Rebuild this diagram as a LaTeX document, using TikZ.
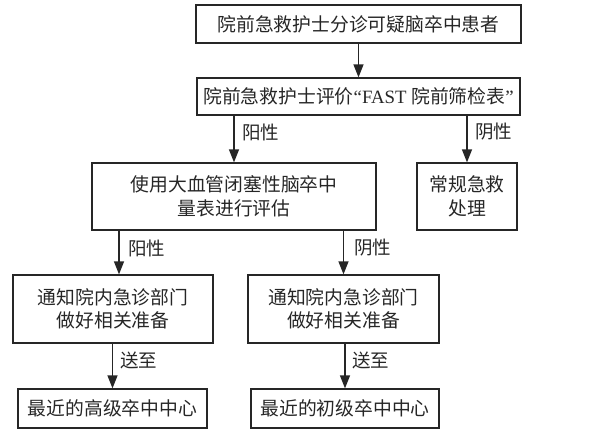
\documentclass[tikz,border=0pt]{standalone}
\usepackage{fontspec}
\setmainfont{Liberation Serif}
\newfontfamily\cjk{Noto Sans CJK SC}
\usetikzlibrary{arrows.meta}
\begin{document}
\begin{tikzpicture}[x=1pt,y=-1pt,
  box/.style={draw=black!85,line width=1.2pt,inner sep=0pt,align=center,
    font=\fontsize{18.8}{23.5}\selectfont\cjk,text=black!85},
  arr/.style={draw=black!85,line width=1.2pt,-{Triangle[length=13pt,width=10pt]}},
  lab/.style={font=\fontsize{18.5}{21}\selectfont\cjk,text=black!85,anchor=west,inner sep=0pt}]
\useasboundingbox (0,0) rectangle (592,432);
\node[box,minimum width=325pt,minimum height=38pt] (b1) at (358.5,24) {院前急救护士分诊可疑脑卒中患者};
\node[box,minimum width=323pt,minimum height=37pt] (b2) at (358.5,96.5) {院前急救护士评价{\rmfamily“FAST }院前筛检表{\rmfamily”}};
\node[box,minimum width=284pt,minimum height=67pt] (b3) at (234,196.5) {使用大血管闭塞性脑卒中\\量表进行评估};
\node[box,minimum width=100pt,minimum height=67pt] (b4) at (467,196.5) {常规急救\\处理};
\node[box,minimum width=200pt,minimum height=68pt] (b5) at (113,309) {通知院内急诊部门\\做好相关准备};
\node[box,minimum width=191pt,minimum height=68pt] (b6) at (343.5,309) {通知院内急诊部门\\做好相关准备};
\node[box,minimum width=189pt,minimum height=39pt] (b7) at (112.5,408.5) {最近的高级卒中中心};
\node[box,minimum width=188pt,minimum height=39pt] (b8) at (345,408.5) {最近的初级卒中中心};
\coordinate (c1) at (119,0);
\draw[arr] (b1.south) -- (b2.north);
\draw[arr] (b3.north |- b2.south) -- (b3.north);
\draw[arr] (b4.north |- b2.south) -- (b4.north);
\draw[arr] (c1 |- b3.south) -- (c1 |- b5.north);
\draw[arr] (b6.north |- b3.south) -- (b6.north);
\draw[arr] (b7.north |- b5.south) -- (b7.north);
\draw[arr] (b8.north |- b6.south) -- (b8.north);
\node[lab] (l1) at (242,132) {阳性};
\node[lab] (l2) at (475,132) {阴性};
\node[lab] (l3) at (128,248) {阳性};
\node[lab] (l4) at (354,248) {阴性};
\node[lab] (l5) at (120,360) {送至};
\node[lab] (l6) at (352,360) {送至};
\end{tikzpicture}
\end{document}
